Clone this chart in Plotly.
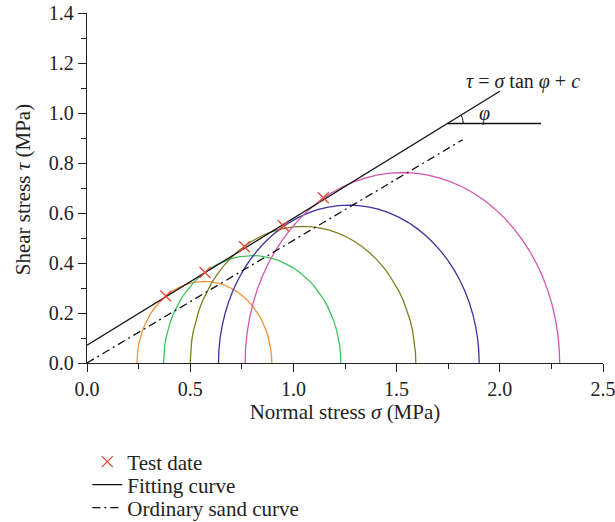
import numpy as np
import plotly.graph_objects as go

# ---- data ----
sigma3 = [0.242, 0.371, 0.500, 0.637, 0.766]      # minor principal stress (MPa)
sigma1 = [0.895, 1.230, 1.593, 1.900, 2.290]      # major principal stress (MPa)
circle_colors = ["#F5923A", "#3CC45A", "#808020", "#3A35A0", "#D456B0"]

test_x = [0.382, 0.572, 0.763, 0.951, 1.145]
test_y = [0.268, 0.362, 0.465, 0.549, 0.661]

fit_x = [0.0, 2.0]
fit_y = [0.071, 1.087]

sand_x = [0.0, 1.82]
sand_y = [0.0, 0.893]

hline_x = [1.746, 2.20]
hline_y = [0.958, 0.958]

x_ticks = [0.0, 0.5, 1.0, 1.5, 2.0, 2.5]
y_ticks = [0.0, 0.2, 0.4, 0.6, 0.8, 1.0, 1.2, 1.4]

FONT = "Liberation Serif"
TXT = "#222"
fig = go.Figure()

# Mohr circles (upper halves) from principal stresses
for s3, s1, col in zip(sigma3, sigma1, circle_colors):
    c = (s1 + s3) / 2
    r = (s1 - s3) / 2
    t = np.linspace(np.pi, 0, 41)
    fig.add_trace(go.Scatter(x=c + r * np.cos(t), y=r * np.sin(t), mode="lines",
                             line=dict(color=col, width=1.3), showlegend=False,
                             hoverinfo="skip", cliponaxis=False))

fig.add_trace(go.Scatter(x=fit_x, y=fit_y, mode="lines", name="Fitting curve",
                         line=dict(color="#111111", width=1.3), legend="legend2"))
fig.add_trace(go.Scatter(x=sand_x, y=sand_y, mode="lines", name="Ordinary sand curve",
                         line=dict(color="#111111", width=1.3, dash="8px,4px,2px,4px"),
                         legend="legend3"))
fig.add_trace(go.Scatter(x=hline_x, y=hline_y, mode="lines", showlegend=False,
                         line=dict(color="#111111", width=1.3)))

# angle arc for phi
ang = np.arctan((fit_y[1] - fit_y[0]) / (fit_x[1] - fit_x[0]) * 248.6 / 206.7)
ta = np.linspace(0, ang, 12)
fig.add_trace(go.Scatter(x=hline_x[0] + 0.0774 * np.cos(ta), y=hline_y[0] + 0.0644 * np.sin(ta),
                         mode="lines", showlegend=False, line=dict(color="#111111", width=1)))

fig.add_trace(go.Scatter(x=test_x, y=test_y, mode="markers", name="Test date",
                         marker=dict(symbol="x-thin", size=11, color="#E84A3A",
                                     line=dict(color="#E84A3A", width=1.3)),
                         legend="legend"))

fig.add_annotation(x=2.11, y=1.127, xref="x", yref="y",
                   text="<i>τ</i> = <i>σ</i> tan <i>φ</i> + <i>c</i>",
                   showarrow=False, font=dict(family=FONT, size=20, color=TXT))
fig.add_annotation(x=1.927, y=1.0, xref="x", yref="y", text="<i>φ</i>",
                   showarrow=False, font=dict(family=FONT, size=20, color=TXT))
fig.add_annotation(x=-0.06, y=0.075, xref="x", yref="y", text="c",
                   showarrow=False, font=dict(family=FONT, size=20, color=TXT))
# y-axis title
fig.add_annotation(x=-0.125, y=0.495, xref="paper", yref="paper", textangle=-90,
                   text="Shear stress <i>τ</i> (MPa)", showarrow=False,
                   xanchor="center", yanchor="middle",
                   font=dict(family=FONT, size=21, color=TXT))

axis_common = dict(showline=True, linecolor="#222", linewidth=1.3, showgrid=False,
                   zeroline=False, ticks="outside", ticklen=8, tickwidth=1.3, tickcolor="#222",
                   tickfont=dict(family=FONT, size=20, color=TXT), mirror=False, automargin=False,
                   ticklabeloverflow="allow")

fig.update_xaxes(range=[0, 2.5], tickvals=x_ticks, ticktext=[f"{v:.1f}" for v in x_ticks],
                 minor=dict(ticks="outside", ticklen=5, tickwidth=1.3, tickcolor="#222", dtick=0.25, tick0=0),
                 title=dict(text="Normal stress <i>σ</i> (MPa)", font=dict(family=FONT, size=21, color=TXT), standoff=2),
                 **axis_common)
fig.update_yaxes(range=[0, 1.4], tickvals=y_ticks, ticktext=[f"{v:.1f}" for v in y_ticks],
                 minor=dict(ticks="outside", ticklen=5, tickwidth=1.3, tickcolor="#222", dtick=0.1, tick0=0),
                 **axis_common)

leg = dict(xanchor="left", yanchor="middle", xref="container", yref="container",
           font=dict(family=FONT, size=21, color=TXT), bgcolor="rgba(0,0,0,0)")
fig.update_layout(width=615, height=522,
                  margin=dict(l=87, r=12, t=13, b=159, autoexpand=False),
                  plot_bgcolor="white", paper_bgcolor="white",
                  legend=dict(x=0.142, y=0.115, **leg),
                  legend2=dict(x=0.142, y=0.071, **leg),
                  legend3=dict(x=0.142, y=0.027, **leg))

fig.write_html("out.html", config={"displayModeBar": False},
               post_script="document.body.style.margin='0px';document.body.style.overflow='hidden';")
